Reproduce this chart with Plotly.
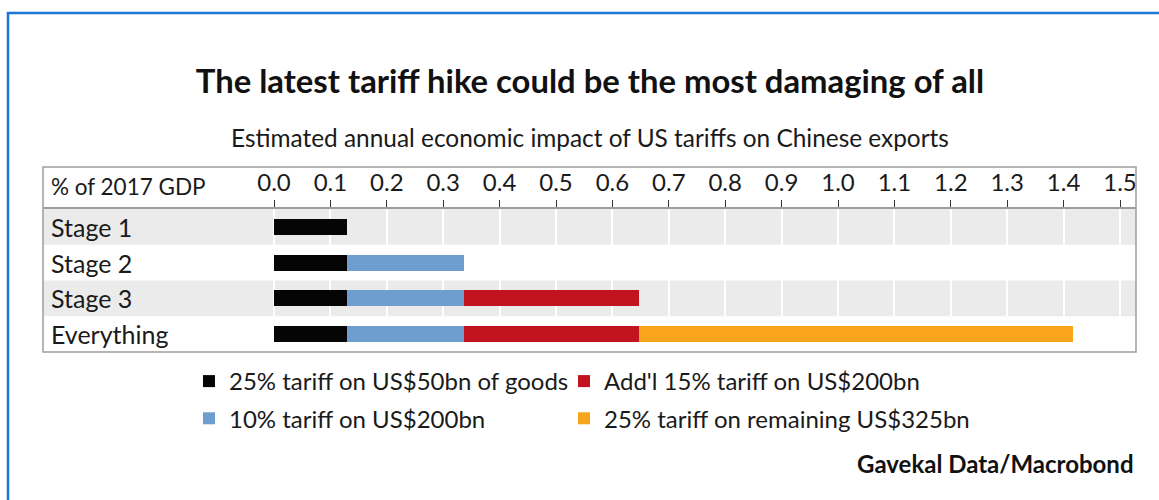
import plotly.graph_objects as go

# ---- data ----
categories = ["Stage 1", "Stage 2", "Stage 3", "Everything"]
series_names = [
    "25% tariff on US$50bn of goods",
    "10% tariff on US$200bn",
    "Add'l 15% tariff on US$200bn",
    "25% tariff on remaining US$325bn",
]
tariff_50bn = [0.13, 0.13, 0.13, 0.13]
tariff_10pct_200bn = [None, 0.207, 0.207, 0.207]
tariff_addl_15pct = [None, None, 0.31, 0.31]
tariff_remaining = [None, None, None, 0.77]
tick_values = [0.0, 0.1, 0.2, 0.3, 0.4, 0.5, 0.6, 0.7, 0.8, 0.9, 1.0, 1.1, 1.2, 1.3, 1.4, 1.5]
tick_labels = [f"{v:.1f}" for v in tick_values]
shaded_rows = ["Stage 1", "Stage 3"]

# ---- style ----
FONT = "Lato, 'Liberation Sans', Arial, sans-serif"
colors = ["#050505", "#6d9ecf", "#c1141f", "#f9a51b"]
legend_ids = ["legend", "legend", "legend2", "legend2"]
W, H = 1159, 500
ML, MR, MT, MB = 43, 23, 209, 148
PW, PH = W - ML - MR, H - MT - MB


def px_x(px):
    return (px - ML) / PW


def px_y(py):
    return (H - MB - py) / PH


fig = go.Figure()
for name, vals, col, lg in zip(series_names,
                               [tariff_50bn, tariff_10pct_200bn, tariff_addl_15pct, tariff_remaining],
                               colors, legend_ids):
    fig.add_trace(go.Bar(
        y=categories, x=vals, name=name, orientation="h",
        marker=dict(color=col, line=dict(width=0)),
        legend=lg, legendgroup=name, width=0.45,
        hoverinfo="x+name",
    ))

shapes = []
# shaded bands
for cat in shaded_rows:
    i = categories.index(cat)
    shapes.append(dict(type="rect", xref="paper", yref="y", x0=0, x1=1,
                       y0=i - 0.5, y1=i + 0.5, fillcolor="#ebebeb",
                       line=dict(width=0), layer="below"))
# chart frame incl. header
shapes.append(dict(type="rect", xref="paper", yref="paper", x0=0, x1=1,
                   y0=0, y1=px_y(167), line=dict(color="#9d9d9d", width=1.5),
                   fillcolor="rgba(0,0,0,0)", layer="above"))
# outer blue border
shapes.append(dict(type="rect", xref="paper", yref="paper", x0=px_x(8), x1=px_x(1175),
                   y0=px_y(520), y1=px_y(13), line=dict(color="#1a78d4", width=2.5),
                   fillcolor="rgba(0,0,0,0)", layer="above"))

annotations = [
    dict(text="Estimated annual economic impact of US tariffs on Chinese exports",
         xref="paper", yref="paper", x=px_x(590), y=px_y(137), xanchor="center", yanchor="middle",
         showarrow=False, font=dict(family=FONT, size=24.4, color="#1a1a1a")),
    dict(text="% of 2017 GDP", xref="paper", yref="paper", x=px_x(49), y=px_y(186),
         xanchor="left", yanchor="middle", showarrow=False,
         font=dict(family=FONT, size=22.5, color="#1a1a1a")),
    dict(text="<b>Gavekal Data/Macrobond</b>", xref="paper", yref="paper", x=px_x(1136), y=px_y(463),
         xanchor="right", yanchor="middle", showarrow=False,
         font=dict(family=FONT, size=24, color="#111111")),
]
for cat in categories:
    annotations.append(dict(text=cat, xref="paper", yref="y", x=px_x(49), y=cat,
                            xanchor="left", yanchor="middle", showarrow=False,
                            font=dict(family=FONT, size=25, color="#1a1a1a")))

fig.update_layout(
    width=W, height=H, autosize=False,
    margin=dict(l=ML, r=MR, t=MT, b=MB, pad=0),
    paper_bgcolor="white", plot_bgcolor="white",
    barmode="stack", bargap=0.55,
    title=dict(text="<b>The latest tariff hike could be the most damaging of all</b>",
               x=590 / W, xanchor="center", y=1 - 82 / H, yanchor="middle",
               font=dict(family=FONT, size=32.8, color="#111111")),
    xaxis=dict(range=[-(274 - ML) / 564, (1136 - 274) / 564], side="top",
               tickvals=tick_values, ticktext=tick_labels,
               ticks="outside", ticklen=7, tickwidth=1, tickcolor="#333333",
               showgrid=True, gridcolor="white", gridwidth=2,
               zeroline=False, showline=True, linecolor="#9d9d9d", linewidth=1.5,
               tickfont=dict(family=FONT, size=24, color="#1a1a1a"), fixedrange=True),
    yaxis=dict(categoryorder="array", categoryarray=categories, range=[3.5, -0.5],
               showticklabels=False, showgrid=False, zeroline=False, showline=False,
               fixedrange=True),
    shapes=shapes,
    annotations=annotations,
    legend=dict(orientation="v", x=px_x(189), y=px_y(359), xanchor="left", yanchor="top",
                font=dict(family=FONT, size=24, color="#1a1a1a"),
                traceorder="grouped", tracegroupgap=3, bgcolor="rgba(0,0,0,0)"),
    legend2=dict(orientation="v", x=px_x(564), y=px_y(359), xanchor="left", yanchor="top",
                 font=dict(family=FONT, size=24, color="#1a1a1a"),
                 traceorder="grouped", tracegroupgap=3, bgcolor="rgba(0,0,0,0)"),
    showlegend=True,
)

fig.write_html("out.html")
